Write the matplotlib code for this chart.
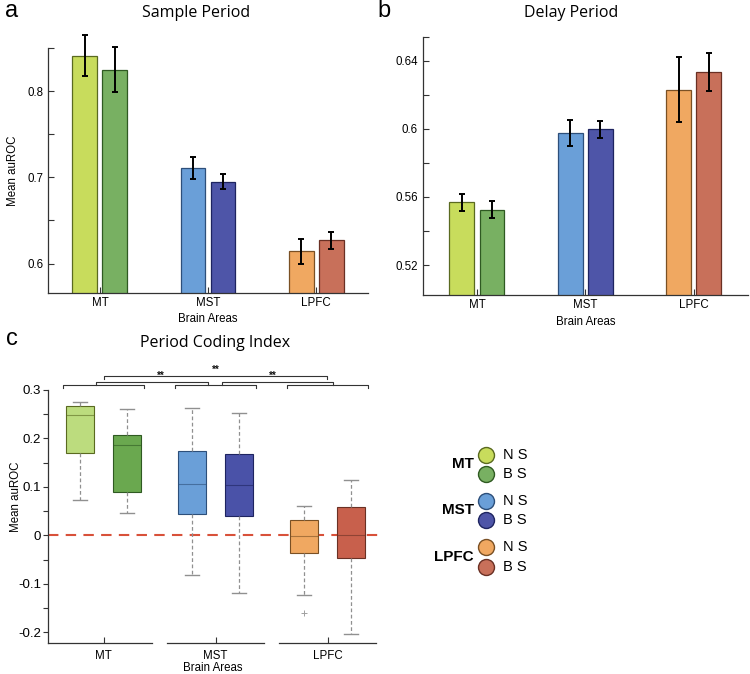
import matplotlib
matplotlib.use("Agg")
import matplotlib.pyplot as plt
import numpy as np

plt.rcParams['font.family'] = ['Liberation Sans', 'DejaVu Sans']
plt.rcParams['axes.unicode_minus'] = False

# ---------------- data ----------------
areas = ["MT", "MST", "LPFC"]
cell_types = ["NS", "BS"]

sample_ns = [0.841, 0.711, 0.614]
sample_ns_err = [0.024, 0.013, 0.015]
sample_bs = [0.825, 0.695, 0.627]
sample_bs_err = [0.026, 0.009, 0.010]

delay_ns = [0.5567, 0.5975, 0.6229]
delay_ns_err = [0.0050, 0.0078, 0.0190]
delay_bs = [0.5524, 0.5996, 0.6333]
delay_bs_err = [0.0049, 0.0050, 0.0110]

# period coding index boxes: whisker low, q1, median, q3, whisker high
pci_ns_whislo = [0.074, -0.081, -0.124]
pci_ns_q1 = [0.169, 0.044, -0.037]
pci_ns_med = [0.248, 0.105, -0.002]
pci_ns_q3 = [0.266, 0.175, 0.032]
pci_ns_whishi = [0.275, 0.263, 0.060]
pci_ns_fliers = [[], [], [-0.161]]

pci_bs_whislo = [0.046, -0.118, -0.203]
pci_bs_q1 = [0.090, 0.041, -0.046]
pci_bs_med = [0.186, 0.103, 0.000]
pci_bs_q3 = [0.208, 0.167, 0.059]
pci_bs_whishi = [0.260, 0.252, 0.114]
pci_bs_fliers = [[], [], []]

ns_colors = ["#c8dc5c", "#6a9fd8", "#f0a861"]
bs_colors = ["#78b062", "#4e55a8", "#c8705a"]
ns_box_colors = ["#bcdc7e", "#6a9fd8", "#f0a861"]
bs_box_colors = ["#6aa84f", "#4a52a8", "#c8604c"]
ns_edges = ["#5a6a20", "#2d4f7a", "#7a5024"]
bs_edges = ["#2f5a22", "#1e2460", "#6a3024"]

W, H = 750, 674
fig = plt.figure(figsize=(W / 100, H / 100), dpi=100)


def frac(l, t, r, b):
    return [l / W, 1 - b / H, (r - l) / W, (b - t) / H]


x = np.arange(1, len(areas) + 1)
tick_fs = 8.3


def style_bar_axes(ax):
    for s in ["top", "right"]:
        ax.spines[s].set_visible(False)
    for s in ["left", "bottom"]:
        ax.spines[s].set_color("#333333")
        ax.spines[s].set_linewidth(0.9)
    ax.tick_params(direction="in", length=4, width=0.8, labelsize=tick_fs, colors="#333333",
                   labelcolor="black", which="both")
    ax.tick_params(axis="x", pad=3)
    ax.set_xticks(x)
    ax.set_xticklabels(areas)


def draw_bars(ax, ns, nse, bs, bse):
    off, w = 0.139, 0.23
    for i in range(len(areas)):
        ax.bar(x[i] - off, ns[i], w, color=ns_colors[i], edgecolor=ns_edges[i], linewidth=0.9, zorder=2)
        ax.bar(x[i] + off, bs[i], w, color=bs_colors[i], edgecolor=bs_edges[i], linewidth=0.9, zorder=2)
    for xs, vals, errs in [(x - off, ns, nse), (x + off, bs, bse)]:
        eb = ax.errorbar(xs, vals, yerr=errs, fmt="none", ecolor="black", elinewidth=1.4, capsize=2.2,
                         capthick=1.4, zorder=3)
        for art in eb.lines[1] + eb.lines[2]:
            art.set_clip_on(False)


# ---------------- panel a ----------------
axa = fig.add_axes(frac(48, 48, 368, 293.3))
draw_bars(axa, sample_ns, sample_ns_err, sample_bs, sample_bs_err)
axa.set_xlim(0.52, 3.48)
axa.set_ylim(0.5655, 0.85)
axa.set_yticks([0.6, 0.7, 0.8])
axa.set_yticklabels(["0.6", "0.7", "0.8"])
axa.set_yticks([0.65, 0.75, 0.85], minor=True)
style_bar_axes(axa)
axa.set_ylabel("Mean auROC", fontsize=8.3)
axa.yaxis.set_label_coords(-0.09, 0.5)
axa.text(0.5, -0.082, "Brain Areas", transform=axa.transAxes, ha="center", va="top", fontsize=8.3)

# ---------------- panel b ----------------
axb = fig.add_axes(frac(422.7, 36.7, 748, 295))
draw_bars(axb, delay_ns, delay_ns_err, delay_bs, delay_bs_err)
axb.set_xlim(0.5, 3.5)
axb.set_ylim(0.5024, 0.654)
axb.set_yticks([0.52, 0.56, 0.60, 0.64])
axb.set_yticklabels(["0.52", "0.56", "0.6", "0.64"])
axb.set_yticks([0.54, 0.58, 0.62, 0.654], minor=True)
style_bar_axes(axb)
axb.text(0.5, -0.08, "Brain Areas", transform=axb.transAxes, ha="center", va="top", fontsize=8.3)

# ---------------- panel c ----------------
axc = fig.add_axes(frac(47.5, 390, 378, 643.3))
off_c, w_c = 0.21, 0.25


def stats_for(lo, q1, med, q3, hi, fl):
    return [dict(whislo=lo[i], q1=q1[i], med=med[i], q3=q3[i], whishi=hi[i], fliers=fl[i])
            for i in range(len(lo))]


ns_stats = stats_for(pci_ns_whislo, pci_ns_q1, pci_ns_med, pci_ns_q3, pci_ns_whishi, pci_ns_fliers)
bs_stats = stats_for(pci_bs_whislo, pci_bs_q1, pci_bs_med, pci_bs_q3, pci_bs_whishi, pci_bs_fliers)

axc.axhline(0, color="#d8513a", lw=1.5, dashes=(5, 3.5), zorder=1)

for stats, offs, fills, edges in [(ns_stats, -off_c, ns_box_colors, ns_edges),
                                  (bs_stats, off_c, bs_box_colors, bs_edges)]:
    for i, st in enumerate(stats):
        axc.bxp([st], positions=[x[i] + offs], widths=w_c, patch_artist=True, manage_ticks=False,
                boxprops=dict(facecolor=fills[i], edgecolor=edges[i], linewidth=0.8),
                medianprops=dict(color=edges[i], linewidth=0.8, alpha=0.6),
                whiskerprops=dict(color="#909090", linewidth=0.9, linestyle=(0, (3, 2))),
                capprops=dict(color="#909090", linewidth=1.0),
                capwidths=0.12,
                flierprops=dict(marker="+", markeredgecolor="#a0a0a0", markersize=5, markeredgewidth=0.7),
                zorder=2)

axc.set_xlim(0.5, 3.45)
axc.set_ylim(-0.2227, 0.3)
axc.set_yticks([-0.2, -0.1, 0, 0.1, 0.2, 0.3])
axc.set_yticklabels(["-0.2", "-0.1", "0", "0.1", "0.2", "0.3"])
axc.set_yticks([-0.15, -0.05, 0.05, 0.15, 0.25], minor=True)
for s in ["top", "right", "bottom"]:
    axc.spines[s].set_visible(False)
axc.spines["left"].set_color("#333333")
axc.spines["left"].set_linewidth(0.9)
axc.tick_params(axis="y", direction="out", length=3.5, width=0.8, labelsize=9.5, which="both",
                colors="#333333", labelcolor="black", pad=1)
axc.tick_params(axis="x", direction="in", length=4, width=0.8, labelsize=8.3, colors="#333333",
                labelcolor="black", pad=5)
axc.set_xticks(x)
axc.set_xticklabels(areas)
ybot = axc.get_ylim()[0]
seg_half = 0.43
for i in range(len(areas)):
    lo = max(x[i] - seg_half - (0.07 if i == 0 else 0), 0.5)
    axc.plot([lo, x[i] + seg_half], [ybot, ybot], color="#333333", lw=0.9, clip_on=False, zorder=5)
axc.set_ylabel("Mean auROC", fontsize=8.3)
axc.yaxis.set_label_coords(-0.078, 0.578)
axc.text(0.5, -0.075, "Brain Areas", transform=axc.transAxes, ha="center", va="top", fontsize=8.3)

# significance brackets
br_col = "#333333"
tip = 0.006


def bracket(x0, x1, y):
    axc.plot([x0, x0, x1, x1], [y - tip, y, y, y - tip], color=br_col, lw=0.8, clip_on=False)


for i in range(len(areas)):
    bracket(x[i] - 0.36, x[i] + 0.36, 0.3103)
bracket(0.933, 1.935, 0.3171)
bracket(2.06, 3.05, 0.3171)
bracket(1.0, 2.995, 0.3295)
for xs, ys in [(1.515, 0.3171), (2.51, 0.3171), (2.0, 0.3295)]:
    axc.text(xs, ys + 0.001, "**", ha="center", va="bottom", fontsize=7, fontweight="bold",
             color="#111111", clip_on=False)

# ---------------- titles and panel letters ----------------
title_font = ["Open Sans", "DejaVu Sans"]
fig.text(196 / W, 1 - 13 / H, "Sample Period", ha="center", va="center", fontsize=11.5, family=title_font)
fig.text(571 / W, 1 - 13 / H, "Delay Period", ha="center", va="center", fontsize=11.5, family=title_font)
fig.text(215 / W, 1 - 343 / H, "Period Coding Index", ha="center", va="center", fontsize=11.5,
         family=title_font)
fig.text(5 / W, 1 - 17 / H, "a", ha="left", va="baseline", fontsize=17)
fig.text(377 / W, 1 - 17 / H, "b", ha="left", va="baseline", fontsize=17)
fig.text(6 / W, 1 - 345 / H, "c", ha="left", va="baseline", fontsize=17)

# ---------------- legend ----------------
lax = fig.add_axes([0, 0, 1, 1])
lax.set_xlim(0, W)
lax.set_ylim(H, 0)
lax.axis("off")
group_y = [(455, 474), (501, 520), (547, 567)]
for i, area in enumerate(areas):
    y_ns, y_bs = group_y[i]
    lax.plot([486], [y_ns], "o", ms=11.5, mfc=ns_colors[i], mec=ns_edges[i], mew=1.0)
    lax.plot([486], [y_bs], "o", ms=11.5, mfc=bs_colors[i], mec=bs_edges[i], mew=1.0)
    lax.text(503, y_ns, "N S", ha="left", va="center", fontsize=10.5)
    lax.text(503, y_bs, "B S", ha="left", va="center", fontsize=10.5)
    lax.text(474, (y_ns + y_bs) / 2, area, ha="right", va="center", fontsize=11, fontweight="bold")

fig.savefig("out.png", dpi=100)
